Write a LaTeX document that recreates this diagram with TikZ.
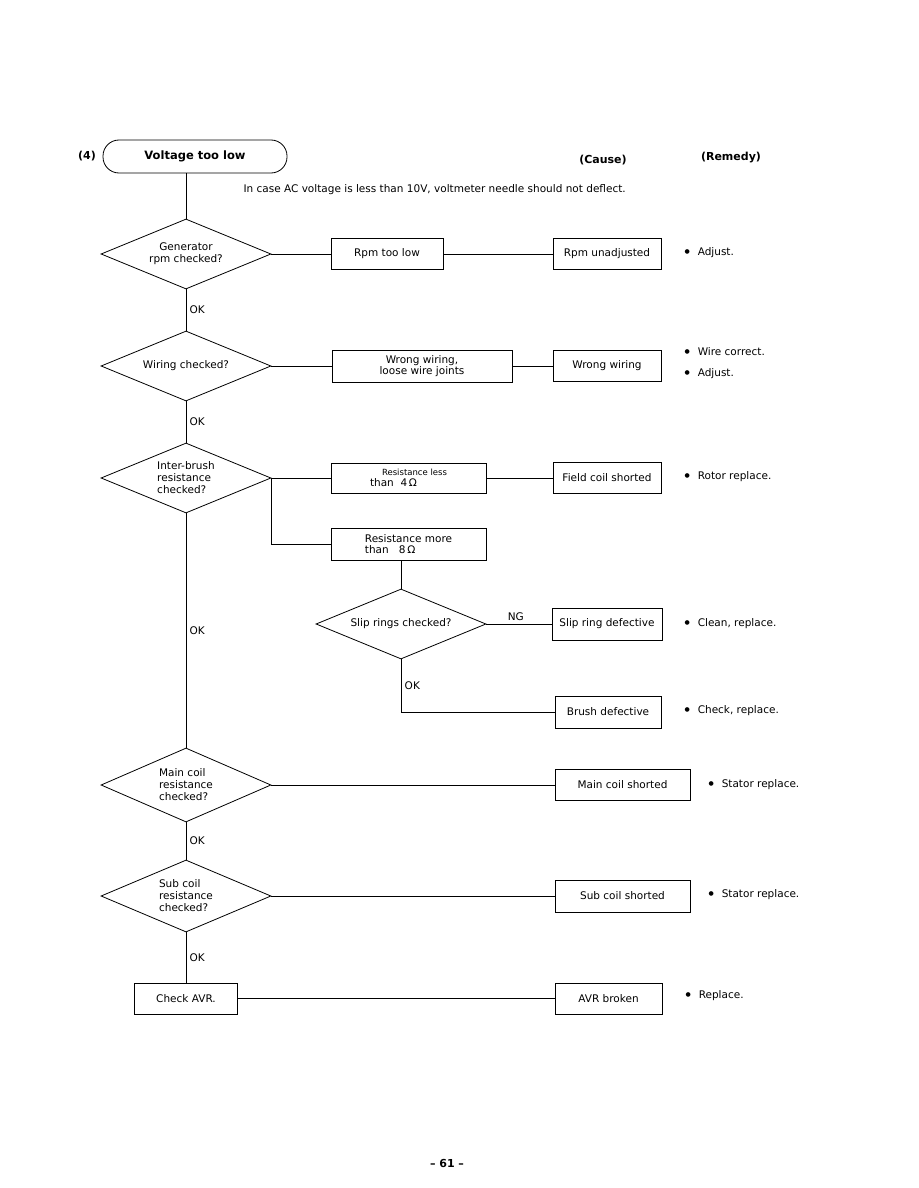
\documentclass[tikz,border=0pt]{standalone}
\usepackage{fontspec}
\setmainfont{DejaVu Sans}
\usetikzlibrary{shapes.geometric}
\newcommand{\blt}{\raisebox{2pt}{\fontsize{6}{6}\selectfont ●}\hspace{8pt}}

\begin{document}
\begin{tikzpicture}[x=1pt,y=-1pt]
			\tikzset{
				txt/.style={font=\fontsize{10.5}{12}\selectfont},
				box/.style={draw, thick, txt, minimum height=31pt, inner sep=2pt, align=center},
				check/.style={draw, thick, diamond, aspect=2.43, txt, minimum width=170pt, minimum height=70pt, inner sep=0pt, align=center},
				okl/.style={txt, anchor=west},
				remedy/.style={txt, anchor=west}
			}
			\useasboundingbox (0,0) rectangle (918,1188);

			% Title
			\node[font=\bfseries\fontsize{11}{13}\selectfont] (num) at (87,156) {(4)};
			\node[draw, thick, rounded corners=16pt, minimum width=184pt, minimum height=33pt,
				font=\bfseries\fontsize{11.5}{13}\selectfont] (title) at (195,156.5) {Voltage too low};
			\node[font=\bfseries\fontsize{11}{12}\selectfont] (cause) at (603,160) {(Cause)};
			\node[font=\bfseries\fontsize{11}{12}\selectfont] (remedyhd) at (731,158) {(Remedy)};
			\node[txt, anchor=west] (note) at (240,190) {In case AC voltage is less than 10V, voltmeter needle should not deflect.};

			% Checks down the left side
			\node[check] (gen) at (186,254) {Generator\\rpm checked?};
			\node[check] (wiring) at (186,366) {Wiring checked?};
			\node[check, align=left] (brush) at (186,478) {Inter-brush\\resistance\\checked?};
			\node[check, minimum height=74pt, align=left] (maincoil) at (186,785) {Main coil\\resistance\\checked?};
			\node[check, minimum height=72pt, align=left] (subcoil) at (186,896) {Sub coil\\resistance\\checked?};
			\node[box, minimum width=103pt] (avr) at (186,998.5) {Check AVR.};

			% Slip ring branch
			\node[check] (slip) at (401,624) {Slip rings checked?};

			% Middle column
			\node[box, minimum width=112pt] (rpmlow) at (387,254) {Rpm too low};
			\node[box, minimum width=180pt, minimum height=32pt, font=\fontsize{10.5}{10.5}\selectfont] (loose) at (422,366) {Wrong wiring,\\loose wire joints};
			\node[box, minimum width=155pt, minimum height=30pt, align=left, font=\fontsize{10.5}{10.5}\selectfont] (resless) at (408.5,478) {\hspace{12pt}{\fontsize{8.5}{9}\selectfont Resistance less}\\than\ \ 4\,Ω};
			\node[box, minimum width=155pt, minimum height=32pt, align=left, font=\fontsize{10.5}{10.5}\selectfont] (resmore) at (408.5,544) {Resistance more\\than\ \ \ 8\,Ω};

			% Causes
			\node[box, minimum width=108pt] (rpmunadj) at (607,254) {Rpm unadjusted};
			\node[box, minimum width=108pt] (wrongw) at (607,366) {Wrong wiring};
			\node[box, minimum width=108pt] (field) at (607,478) {Field coil shorted};
			\node[box, minimum width=110pt, minimum height=32pt] (slipdef) at (607,624) {Slip ring defective};
			\node[box, minimum width=106pt, minimum height=32pt] (brushdef) at (608,712) {Brush defective};
			\node[box, minimum width=135pt] (mainsh) at (622.5,785) {Main coil shorted};
			\node[box, minimum width=135pt, minimum height=32pt] (subsh) at (622.5,896) {Sub coil shorted};
			\node[box, minimum width=107pt] (avrbr) at (608.5,998.5) {AVR broken};

			% Remedies
			\node[remedy] (r1) at (681,253) {\blt Adjust.};
			\node[remedy] (r2) at (681,352) {\blt Wire correct.};
			\node[remedy] (r3) at (681,374) {\blt Adjust.};
			\node[remedy] (r4) at (681,477) {\blt Rotor replace.};
			\node[remedy] (r5) at (681,624) {\blt Clean, replace.};
			\node[remedy] (r6) at (681,711) {\blt Check, replace.};
			\node[remedy] (r7) at (705,785) {\blt Stator replace.};
			\node[remedy] (r8) at (705,895) {\blt Stator replace.};
			\node[remedy] (r9) at (682,996) {\blt Replace.};

			% Main line
			\draw[thick] (title.south -| gen.north) -- (gen.north);
			\draw[thick] (gen.south) -- node[okl] (ok1) {OK} (wiring.north);
			\draw[thick] (wiring.south) -- node[okl] (ok2) {OK} (brush.north);
			\draw[thick] (brush.south) -- node[okl] (ok3) {OK} (maincoil.north);
			\draw[thick] (maincoil.south) -- node[okl] (ok4) {OK} (subcoil.north);
			\draw[thick] (subcoil.south) -- node[okl] (ok5) {OK} (avr.north);

			% Lines to the right
			\draw[thick] (gen.east) -- (rpmlow.west);
			\draw[thick] (rpmlow.east) -- (rpmunadj.west);
			\draw[thick] (wiring.east) -- (loose.west);
			\draw[thick] (loose.east) -- (wrongw.west);
			\draw[thick] (brush.east) -- (resless.west);
			\draw[thick] (resless.east) -- (field.west);
			\coordinate (fork) at (brush.east);
			\draw[thick] (fork) |- (resmore.west);
			\draw[thick] (resmore.south -| slip.north) -- (slip.north);
			\draw[thick] (slip.east) -- node[txt, above, pos=0.45] (ng) {NG} (slipdef.west);
			\draw[thick] (slip.south) |- node[okl, pos=0.25] (ok6) {OK} (brushdef.west);
			\draw[thick] (maincoil.east) -- (mainsh.west);
			\draw[thick] (subcoil.east) -- (subsh.west);
			\draw[thick] (avr.east) -- (avrbr.west);

			% Page number
			\node[font=\bfseries\fontsize{11}{13}\selectfont] (page) at (447,1163) {-- 61 --};
		\end{tikzpicture}
\end{document}
